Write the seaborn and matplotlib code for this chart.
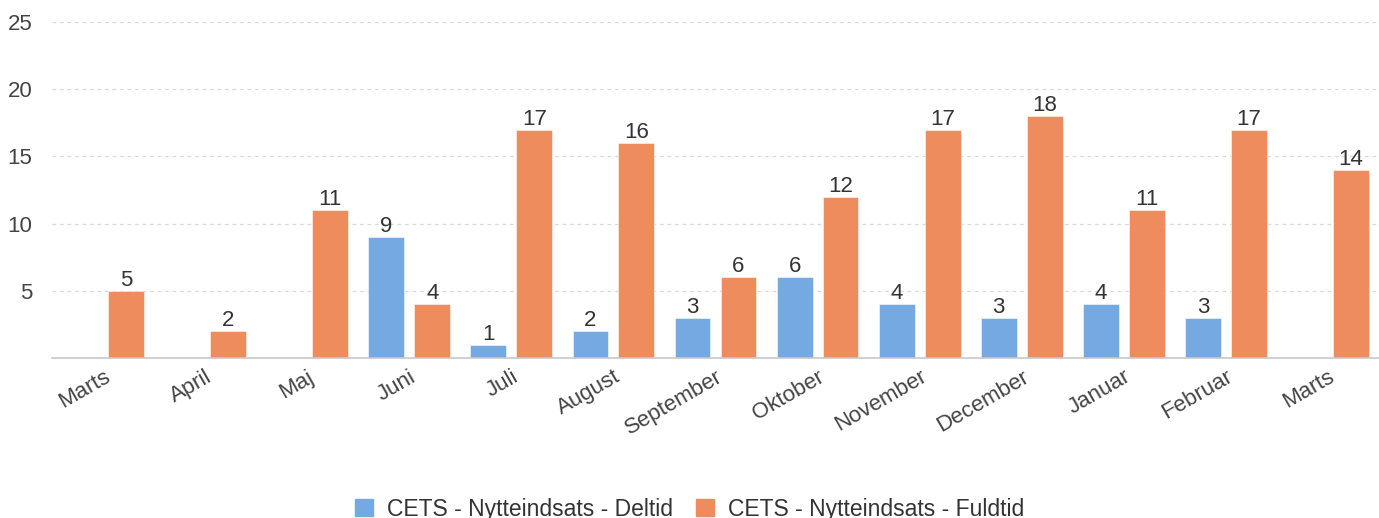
import numpy as np
import pandas as pd
import matplotlib
matplotlib.use("Agg")
import matplotlib.pyplot as plt
import seaborn as sns

months = ["Marts", "April", "Maj", "Juni", "Juli", "August", "September",
          "Oktober", "November", "December", "Januar", "Februar", "Marts"]
deltid = [np.nan, np.nan, np.nan, 9, 1, 2, 3, 6, 4, 3, 4, 3, np.nan]
fuldtid = [5, 2, 11, 4, 17, 16, 6, 12, 17, 18, 11, 17, 14]
series = ["CETS - Nytteindsats - Deltid", "CETS - Nytteindsats - Fuldtid"]
colors = ["#74A9E1", "#EF8C5E"]

rows = []
for i, m in enumerate(months):
    rows.append({"pos": i, "Serie": series[0], "Antal": deltid[i]})
    rows.append({"pos": i, "Serie": series[1], "Antal": fuldtid[i]})
df = pd.DataFrame(rows)

sns.set_style("white")
plt.rcParams["font.family"] = ["Liberation Sans", "DejaVu Sans"]
txt = "#333333"
fs = 16

fig = plt.figure(figsize=(13.79, 5.18), dpi=100)
ax = fig.add_axes([0.0377, 0.309, 0.9623, 0.6485])

sns.barplot(data=df, x="pos", y="Antal", hue="Serie", hue_order=series,
            palette=colors, saturation=1, width=0.9, gap=0.22, ax=ax,
            edgecolor=(1, 1, 1, 0.6), linewidth=0.6, errorbar=None, legend=True)

for cont in ax.containers:
    labels = []
    for bar in cont:
        h = bar.get_height()
        labels.append("" if (np.isnan(h) or h == 0) else f"{int(h)}")
    ax.bar_label(cont, labels=labels, padding=0, fontsize=fs, color=txt)

ax.set_xlim(-0.5, len(months) - 0.5)
ax.set_ylim(0, 25)
ax.set_yticks([5, 10, 15, 20, 25])
ax.tick_params(axis="y", length=0, labelsize=fs, labelcolor="#444444", pad=14)
ax.set_xticks(range(len(months)))
ax.set_xticklabels(months, rotation=30, ha="right", rotation_mode="anchor",
                   fontsize=fs, color="#444444")
ax.tick_params(axis="x", which="major", length=0, pad=6)
ax.set_xticks(np.arange(-0.5, len(months), 1.0), minor=True)
ax.tick_params(axis="x", which="minor", length=6, color="#c8c8c8", width=1)

ax.yaxis.grid(True, linestyle=(0, (3, 3)), color="#d9d9d9", linewidth=0.9)
ax.set_axisbelow(True)
for s in ["top", "right", "left"]:
    ax.spines[s].set_visible(False)
ax.spines["bottom"].set_color("#c8c8c8")
ax.spines["bottom"].set_linewidth(1.2)
ax.set_xlabel("")
ax.set_ylabel("")

ax.get_legend().remove()
handles = [plt.Rectangle((0, 0), 1, 1, color=c) for c in colors]
fig.legend(handles, series, loc="lower center", bbox_to_anchor=(0.5, -0.045),
           ncol=2, frameon=False, fontsize=16.5, handlelength=0.8,
           handleheight=0.8, handletextpad=0.6, columnspacing=1.0,
           labelcolor="#333333")

fig.savefig("out.png", dpi=100)
